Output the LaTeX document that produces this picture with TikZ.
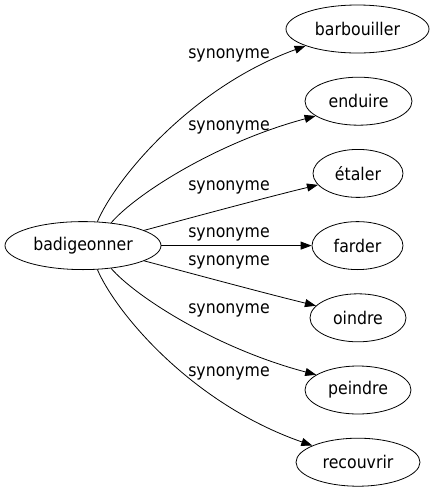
\documentclass[tikz,border=0pt]{standalone}
\usepackage{fontspec}
\setmainfont[FakeStretch=0.9]{DejaVu Sans}
\usetikzlibrary{shapes.geometric,arrows.meta}
\tikzset{
  word/.style={draw, ellipse, inner sep=0pt, minimum height=48pt, line width=0.8pt, font=\fontsize{17.5}{20}\selectfont},
  rel/.style={draw, -{Triangle[length=11pt,width=8pt]}, line width=0.8pt},
  lab/.style={font=\fontsize{17.5}{20}\selectfont}
}
\begin{document}
\begin{tikzpicture}[x=1pt,y=-1pt]
\useasboundingbox (0,0) rectangle (435,491);
\node[word, minimum width=156pt] (b) at (83,245.6) {badigeonner};
\node[word, minimum width=143pt] (n1) at (357.5,29) {barbouiller};
\node[word, minimum width=107pt] (n2) at (358.5,101.2) {enduire};
\node[word, minimum width=90pt] (n3) at (358,173.4) {étaler};
\node[word, minimum width=91pt] (n4) at (357.5,245.6) {farder};
\node[word, minimum width=96pt] (n5) at (358,317.8) {oindre};
\node[word, minimum width=106pt] (n6) at (358,390) {peindre};
\node[word, minimum width=124pt] (n7) at (358,462.2) {recouvrir};
\draw[rel] (b.59) .. controls (115,180) and (190,88) .. (n1.198);
\draw[rel] (b.39) .. controls (135,195) and (215,143) .. (n2.199);
\draw[rel] (b.14) .. controls (190,218) and (260,199) .. (n3.196);
\draw[rel] (b.east) -- (n4.west);
\draw[rel] (b.-14) .. controls (190,273) and (260,292) .. (n5.164);
\draw[rel] (b.-39) .. controls (135,296) and (215,348) .. (n6.160);
\draw[rel] (b.-59) .. controls (115,311) and (190,403) .. (n7.160);
\node[lab] (l1) at (229,55) {synonyme};
\node[lab] (l2) at (229,127) {synonyme};
\node[lab] (l3) at (229,187) {synonyme};
\node[lab] (l4) at (229,234) {synonyme};
\node[lab] (l5) at (229,262) {synonyme};
\node[lab] (l6) at (229,310) {synonyme};
\node[lab] (l7) at (229,373) {synonyme};
\end{tikzpicture}
\end{document}
